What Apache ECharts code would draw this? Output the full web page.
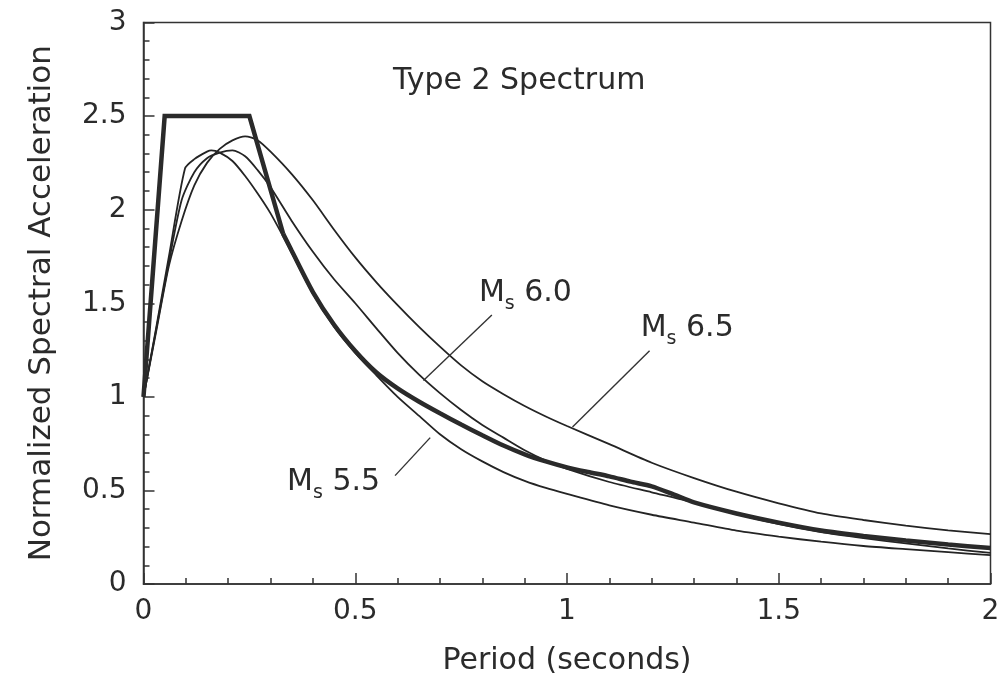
<!DOCTYPE html>
<html><head><meta charset="utf-8">
<script src="https://cdn.jsdelivr.net/npm/echarts@6/dist/echarts.min.js"></script>
<style>html,body{margin:0;padding:0;background:#fff}#c{width:1008px;height:681px}</style>
</head><body><div id="c"></div>
<script>
// ---- Data (period in seconds, normalized spectral acceleration) ----
// Idealized "Type 2" spectrum: straight part
const periodCode = [0, 0.05, 0.25, 0.33];
const saCode     = [1.0, 2.5, 2.5, 1.87];
// Idealized spectrum: curved descending part
const periodThick = [0.33, 0.35, 0.40, 0.45, 0.50, 0.55, 0.60, 0.65, 0.70, 0.75, 0.80, 0.85, 0.90, 0.95, 1.0, 1.05, 1.1, 1.15, 1.2, 1.25, 1.3, 1.4, 1.5, 1.6, 1.7, 1.8, 1.9, 2.0];
const saThick     = [1.87, 1.78, 1.56, 1.385, 1.245, 1.13, 1.045, 0.975, 0.912, 0.852, 0.795, 0.74, 0.693, 0.655, 0.623, 0.598, 0.575, 0.547, 0.522, 0.48, 0.436, 0.377, 0.328, 0.286, 0.257, 0.233, 0.211, 0.192];

// Ms 5.5
const period55 = [0, 0.03, 0.06, 0.098, 0.12, 0.15, 0.16, 0.18, 0.21, 0.24, 0.27, 0.30, 0.35, 0.40, 0.45, 0.50, 0.55, 0.60, 0.65, 0.70, 0.75, 0.80, 0.85, 0.90, 0.95, 1.0, 1.1, 1.2, 1.3, 1.4, 1.5, 1.6, 1.7, 1.8, 1.9, 2.0];
const sa55     = [1.0, 1.37, 1.75, 2.22, 2.27, 2.31, 2.317, 2.305, 2.26, 2.18, 2.085, 1.98, 1.77, 1.55, 1.375, 1.235, 1.115, 1.0, 0.9, 0.8, 0.72, 0.655, 0.598, 0.551, 0.513, 0.481, 0.42, 0.37, 0.328, 0.285, 0.253, 0.226, 0.203, 0.186, 0.17, 0.154];

// Ms 6.0
const period60 = [0, 0.03, 0.06, 0.09, 0.12, 0.15, 0.18, 0.21, 0.24, 0.27, 0.30, 0.35, 0.40, 0.45, 0.50, 0.55, 0.60, 0.65, 0.70, 0.75, 0.80, 0.85, 0.90, 0.95, 1.0, 1.1, 1.2, 1.3, 1.4, 1.5, 1.6, 1.7, 1.8, 1.9, 2.0];
const sa60     = [1.0, 1.36, 1.72, 2.05, 2.20, 2.275, 2.305, 2.317, 2.285, 2.21, 2.12, 1.94, 1.775, 1.628, 1.50, 1.366, 1.235, 1.12, 1.02, 0.93, 0.85, 0.782, 0.715, 0.66, 0.615, 0.545, 0.49, 0.435, 0.373, 0.32, 0.277, 0.245, 0.217, 0.19, 0.166];

// Ms 6.5
const period65 = [0, 0.03, 0.06, 0.09, 0.12, 0.15, 0.18, 0.21, 0.24, 0.27, 0.30, 0.35, 0.40, 0.45, 0.50, 0.55, 0.60, 0.65, 0.70, 0.75, 0.80, 0.85, 0.90, 0.95, 1.0, 1.1, 1.2, 1.3, 1.4, 1.5, 1.6, 1.7, 1.8, 1.9, 2.0];
const sa65     = [1.0, 1.35, 1.70, 1.94, 2.13, 2.25, 2.325, 2.37, 2.392, 2.37, 2.31, 2.19, 2.05, 1.893, 1.745, 1.612, 1.49, 1.375, 1.268, 1.168, 1.083, 1.014, 0.951, 0.895, 0.844, 0.747, 0.648, 0.566, 0.493, 0.431, 0.377, 0.342, 0.312, 0.287, 0.266];

// Curve labels (magnitudes), anchor and leader-line positions in data units
const labelMagnitudes = ['5.5', '6.0', '6.5'];
const labelPeriod     = [0.339, 0.792, 1.174];
const labelSa         = [0.626, 1.635, 1.449];
const leaderFrom = [[0.594, 0.579], [0.8226, 1.437], [1.195, 1.246]];
const leaderTo   = [[0.677, 0.782], [0.661, 1.087], [1.013, 0.839]];

const xTicks = [0, 0.5, 1, 1.5, 2];
const yTicks = [0, 0.5, 1, 1.5, 2, 2.5, 3];

// ---- Chart ----
const FONT = 'DejaVu Sans';
const INK = '#242424';
const TXT = '#2b2b2b';
const pairs = (xs, ys) => xs.map((x, i) => [x, ys[i]]);

const chart = echarts.init(document.getElementById('c'), null, {renderer: 'canvas'});

const thinLine = (name, xs, ys) => ({
  name, type: 'line', data: pairs(xs, ys), showSymbol: false, symbol: 'none',
  smooth: 0.25, lineStyle: {color: INK, width: 1.8}, silent: true, z: 3
});

const series = [
  thinLine('Ms 5.5', period55, sa55),
  thinLine('Ms 6.0', period60, sa60),
  thinLine('Ms 6.5', period65, sa65),
  {name: 'Idealized', type: 'line', data: pairs(periodCode, saCode), showSymbol: false, symbol: 'none',
   smooth: false, lineStyle: {color: '#2a2a2a', width: 4.5, join: 'miter'}, silent: true, z: 4},
  {name: 'Idealized tail', type: 'line', data: pairs(periodThick, saThick), showSymbol: false, symbol: 'none',
   smooth: 0.25, lineStyle: {color: '#2a2a2a', width: 4.5}, silent: true, z: 4}
];

leaderFrom.forEach((p, i) => {
  series.push({type: 'line', data: [p, leaderTo[i]], showSymbol: false, symbol: 'none',
    lineStyle: {color: '#333', width: 1.4}, silent: true, z: 3});
});

series.push({
  type: 'scatter', symbolSize: 0, silent: true, z: 5,
  itemStyle: {opacity: 1, color: 'transparent'},
  data: labelMagnitudes.map((m, i) => [labelPeriod[i], labelSa[i], m]),
  label: {
    show: true, position: [0, 0], align: 'left', verticalAlign: 'top', opacity: 1,
    formatter: p => '{m|M}{s|s}{n| ' + p.value[2] + '}',
    rich: {
      m: {fontFamily: FONT, fontSize: 30, verticalAlign: 'top', color: TXT},
      s: {fontFamily: FONT, fontSize: 19, verticalAlign: 'top', padding: [17, 0, 0, 0], color: TXT},
      n: {fontFamily: FONT, fontSize: 30, verticalAlign: 'top', color: TXT}
    }
  }
});

const axisCommon = {
  type: 'value',
  axisLine: {show: true, lineStyle: {color: '#333', width: 1.5}},
  axisTick: {show: true, inside: true, length: 11, lineStyle: {color: '#333', width: 1.5}},
  minorTick: {show: true, splitNumber: 5, length: 6, lineStyle: {color: '#333', width: 1.5}},
  splitLine: {show: false}, minorSplitLine: {show: false},
  nameLocation: 'middle'
};

chart.setOption({
  animation: false,
  backgroundColor: '#fff',
  title: {text: 'Type 2 Spectrum', left: 388, top: 61.5,
          textStyle: {fontFamily: FONT, fontSize: 30, fontWeight: 'normal', color: TXT}},
  grid: {left: 143.5, right: 17.5, top: 22.5, bottom: 93.5, show: true,
         borderColor: '#333', borderWidth: 1.5, backgroundColor: 'transparent'},
  xAxis: Object.assign({}, axisCommon, {
    min: xTicks[0], max: xTicks[xTicks.length - 1], interval: xTicks[1] - xTicks[0],
    name: 'Period (seconds)', nameGap: 62,
    nameTextStyle: {fontFamily: FONT, fontSize: 30, color: TXT},
    axisLabel: {fontFamily: FONT, fontSize: 28, color: TXT, margin: 14}
  }),
  yAxis: Object.assign({}, axisCommon, {
    min: yTicks[0], max: yTicks[yTicks.length - 1], interval: yTicks[1] - yTicks[0],
    name: 'Normalized Spectral Acceleration', nameGap: 86,
    nameTextStyle: {fontFamily: FONT, fontSize: 31, color: TXT},
    axisLabel: {fontFamily: FONT, fontSize: 28, color: TXT, margin: 17}
  }),
  series
});
</script></body></html>
